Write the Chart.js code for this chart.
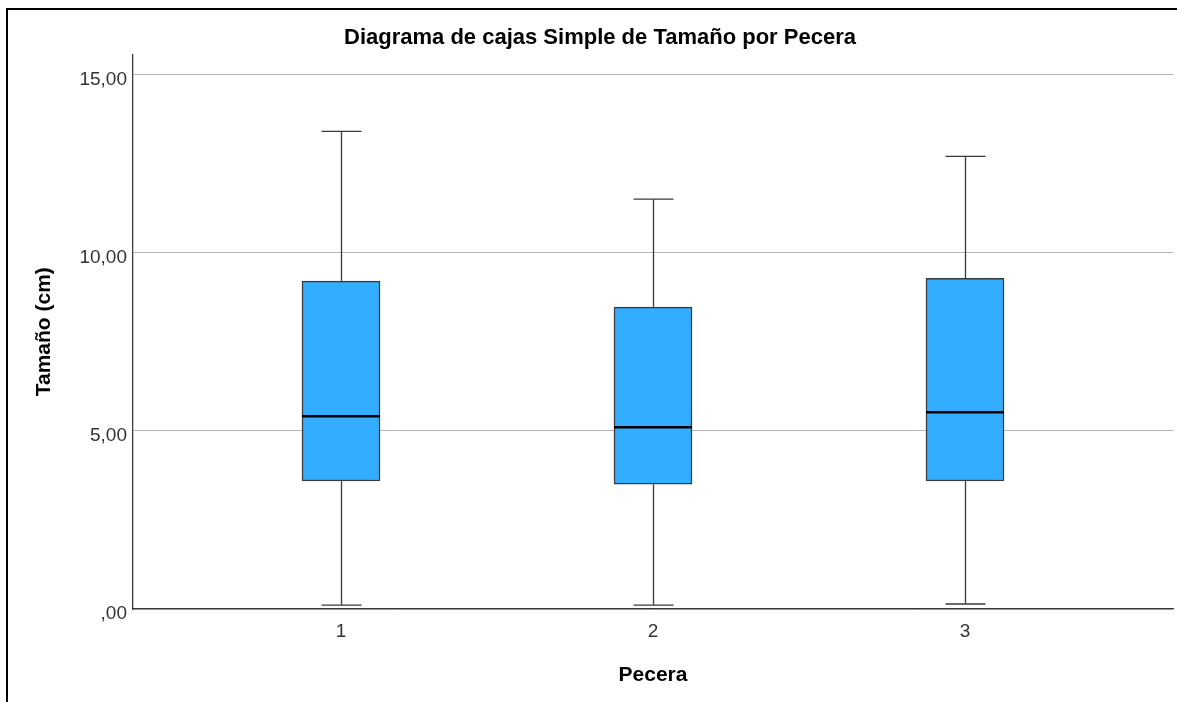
<!DOCTYPE html>
<html>
<head>
<meta charset="utf-8">
<script src="https://cdn.jsdelivr.net/npm/chart.js@4.4.1/dist/chart.umd.min.js"></script>
<style>
  html, body { margin: 0; padding: 0; background: #ffffff; }
  #marco {
    position: absolute; left: 6px; top: 8px;
    width: 1169px; height: 692px;
    border-left: 2px solid #000; border-top: 2px solid #000;
  }
  #grafico { display: block; }
</style>
</head>
<body>
<div id="marco"><canvas id="grafico" width="1169" height="692"></canvas></div>
<script>
// Datos del diagrama de cajas
const peceras = [1, 2, 3];
const bigoteInf = [0.11, 0.11, 0.14];
const cuartil1 = [3.59, 3.50, 3.59];
const mediana = [5.41, 5.10, 5.52];
const cuartil3 = [9.20, 8.47, 9.28];
const bigoteSup = [13.40, 11.50, 12.70];
const ticksY = [0, 5, 10, 15];

const colorCaja = '#33adff';
const colorLinea = '#3a3a3a';
const fuente = 'Arial, "Liberation Sans", sans-serif';

// Formato SPSS: coma decimal, sin cero inicial
function formatoES(v) {
  if (v === 0) return ',00';
  return v.toFixed(2).replace('.', ',');
}

// Bigotes y medianas dibujados con las escalas del gráfico
const pluginCajas = {
  id: 'cajas',
  beforeDatasetsDraw(chart) {
    const { ctx, scales: { x, y } } = chart;
    ctx.save();
    ctx.strokeStyle = colorLinea;
    ctx.lineWidth = 1.3;
    peceras.forEach((p, i) => {
      const cx = Math.round(x.getPixelForValue(p)) + 0.5;
      const medio = 20;
      [[bigoteInf[i], cuartil1[i]], [bigoteSup[i], cuartil3[i]]].forEach(([extremo, borde]) => {
        const ye = y.getPixelForValue(extremo);
        const yb = y.getPixelForValue(borde);
        ctx.beginPath();
        ctx.moveTo(cx, ye); ctx.lineTo(cx, yb);
        ctx.moveTo(cx - medio, ye); ctx.lineTo(cx + medio, ye);
        ctx.stroke();
      });
    });
    ctx.restore();
  },
  afterDatasetsDraw(chart) {
    const { ctx, scales: { y } } = chart;
    const meta = chart.getDatasetMeta(0);
    ctx.save();
    ctx.strokeStyle = '#000000';
    ctx.lineWidth = 2.5;
    peceras.forEach((p, i) => {
      const barra = meta.data[i];
      const ym = y.getPixelForValue(mediana[i]);
      ctx.beginPath();
      ctx.moveTo(barra.x - barra.width / 2, ym);
      ctx.lineTo(barra.x + barra.width / 2, ym);
      ctx.stroke();
    });
    ctx.restore();
  }
};

new Chart(document.getElementById('grafico'), {
  type: 'bar',
  data: {
    datasets: [{
      data: peceras.map((p, i) => ({ x: p, y: [cuartil1[i], cuartil3[i]] })),
      backgroundColor: colorCaja,
      borderColor: colorLinea,
      borderWidth: 1.5,
      borderSkipped: false,
      barThickness: 78
    }]
  },
  options: {
    responsive: false,
    animation: false,
    layout: { padding: { left: 19, right: 4, top: 0, bottom: 0 } },
    plugins: {
      legend: { display: false },
      tooltip: { enabled: false },
      title: {
        display: true,
        text: 'Diagrama de cajas Simple de Tamaño por Pecera',
        color: '#000000',
        font: { family: fuente, size: 22, weight: 'bold' },
        padding: { top: 15, bottom: 3 }
      }
    },
    scales: {
      x: {
        type: 'linear',
        min: 1 / 3,
        max: 11 / 3,
        offset: false,
        afterBuildTicks(scale) { scale.ticks = peceras.map(v => ({ value: v })); },
        afterFit(scale) { scale.height = 93; },
        grid: { display: false, drawTicks: false },
        border: { display: true, color: colorLinea, width: 1.3 },
        ticks: {
          color: '#333333',
          padding: 11,
          font: { family: fuente, size: 19 },
          callback: v => String(v)
        },
        title: {
          display: true,
          text: 'Pecera',
          color: '#000000',
          font: { family: fuente, size: 21, weight: 'bold' },
          padding: { top: 0, bottom: 14 }
        }
      },
      y: {
        min: 0,
        max: 15.56,
        afterBuildTicks(scale) { scale.ticks = ticksY.map(v => ({ value: v })); },
        afterFit(scale) { scale.width = 106; },
        grid: { color: '#b4b4b4', lineWidth: 1, drawTicks: false },
        border: { display: true, color: colorLinea, width: 1.3 },
        ticks: {
          color: '#333333',
          padding: 6,
          labelOffset: 5,
          font: { family: fuente, size: 19 },
          callback: v => formatoES(v)
        },
        title: {
          display: true,
          text: 'Tamaño (cm)',
          color: '#000000',
          font: { family: fuente, size: 21, weight: 'bold' },
          padding: { top: 5, bottom: 0 }
        }
      }
    }
  },
  plugins: [pluginCajas]
});
</script>
</body>
</html>
